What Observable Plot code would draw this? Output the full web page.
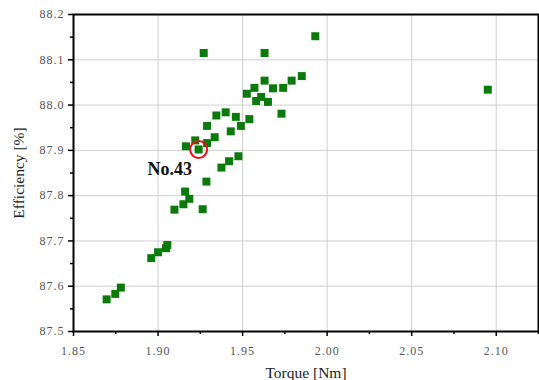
<!DOCTYPE html>
<html><head><meta charset="utf-8">
<script src="https://cdn.jsdelivr.net/npm/d3@7"></script>
<script src="https://cdn.jsdelivr.net/npm/@observablehq/plot@0.6"></script>
<style>
body{margin:0;background:#fff}
#chart svg{display:block}
#chart svg text{font-family:'Liberation Serif', 'Times New Roman', serif}
#chart svg g[aria-label='x-axis tick label'] text,
#chart svg g[aria-label='y-axis tick label'] text{letter-spacing:1px}
</style>
</head><body><div id="chart"></div>
<script>
const torque = [1.927,1.963,1.993,2.095,1.963,1.957,1.9525,1.968,1.974,1.979,1.985,1.961,1.958,1.965,1.973,
  1.9345,1.940,1.946,1.954,1.929,1.949,1.943,1.9335,1.929,1.922,1.9165,1.924,1.9475,1.942,1.9375,
  1.9286,1.916,1.9185,1.915,1.9097,1.9264,1.9055,1.9047,1.900,1.896,1.878,1.8747,1.8696];
const efficiency = [88.115,88.115,88.152,88.034,88.054,88.038,88.025,88.037,88.038,88.054,88.064,88.018,88.009,88.007,87.981,
  87.977,87.984,87.974,87.969,87.954,87.954,87.942,87.929,87.916,87.922,87.909,87.902,87.887,87.876,87.862,
  87.831,87.809,87.793,87.781,87.769,87.770,87.691,87.684,87.675,87.662,87.597,87.583,87.571];
const xTicks = [1.85,1.90,1.95,2.00,2.05,2.10];
const xMinorTicks = [1.875,1.925,1.975,2.025,2.075,2.125];
const yTicks = [87.5,87.6,87.7,87.8,87.9,88.0,88.1,88.2];
const yMinorTicks = [87.55,87.65,87.75,87.85,87.95,88.05,88.15];
const highlightIndex = 26;
const highlightLabel = "No.43";
const xTitle = "Torque [Nm]";
const yTitle = "Efficiency [%]";

const points = torque.map((t, i) => ({torque: t, efficiency: efficiency[i]}));
const highlight = [points[highlightIndex]];
const serif = "'Liberation Serif', 'Times New Roman', serif";

const chart = Plot.plot({
  width: 539,
  height: 380,
  marginLeft: 73,
  marginRight: 1,
  marginTop: 14,
  marginBottom: 49,
  style: {fontFamily: serif, background: "#fff"},
  x: {domain: [1.85, 2.125]},
  y: {domain: [87.5, 88.2]},
  marks: [
    Plot.gridX(xTicks, {stroke: "#cfcfcf", strokeOpacity: 1, strokeWidth: 1}),
    Plot.gridY(yTicks, {stroke: "#cfcfcf", strokeOpacity: 1, strokeWidth: 1}),
    Plot.axisX(xMinorTicks, {tickSize: 3, text: null, stroke: "#000", strokeWidth: 1.5, label: null}),
    Plot.axisY(yMinorTicks, {tickSize: 3, text: null, stroke: "#000", strokeWidth: 1.5, label: null}),
    Plot.axisX(xTicks, {tickSize: 5, tickPadding: 10, stroke: "#000", strokeWidth: 1.5,
      tickFormat: d3.format(".2f"), fill: "#555", fontSize: 12, fontFamily: serif,
      label: xTitle, labelAnchor: "center", labelArrow: "none", labelOffset: 46}),
    Plot.axisY(yTicks, {tickSize: 5, tickPadding: 4, stroke: "#000", strokeWidth: 1.5,
      tickFormat: d3.format(".1f"), fill: "#555", fontSize: 12, fontFamily: serif,
      label: yTitle, labelAnchor: "center", labelArrow: "none", labelOffset: 61}),
    Plot.frame({stroke: "#000", strokeWidth: 2}),
    Plot.dot(points, {x: "torque", y: "efficiency", symbol: "square", r: 4.5, fill: "#0a7a0a"}),
    Plot.dot(highlight, {x: "torque", y: "efficiency", r: 8.5, stroke: "#e8101a", strokeWidth: 2, fill: "none"}),
    Plot.text(highlight, {x: "torque", y: "efficiency", text: () => highlightLabel, dx: -29, dy: 20,
      fontSize: 18, fontWeight: "bold", fill: "#111", fontFamily: serif})
  ]
});
document.getElementById("chart").append(chart);
chart.querySelectorAll("g[aria-label='x-axis label'] text, g[aria-label='y-axis label'] text").forEach(t => {
  t.setAttribute("font-size", "15.5"); t.setAttribute("fill", "#222");
});
</script>
</body></html>
